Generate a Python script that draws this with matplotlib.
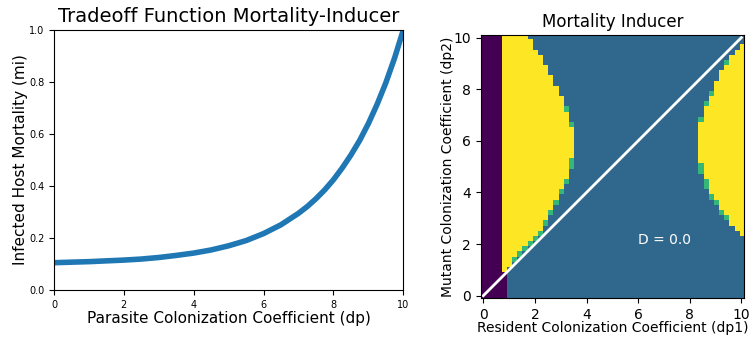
import numpy as np
import matplotlib
matplotlib.use("Agg")
import matplotlib.pyplot as plt

# tradeoff curve: infected host mortality vs parasite colonization coefficient
dp_vals = [0, 0.5, 1, 1.5, 2, 2.5, 3, 3.5, 4, 4.5, 5, 5.5, 6, 6.5,
           7, 7.25, 7.5, 7.75, 8, 8.25, 8.5, 8.75, 9, 9.25, 9.5, 9.75, 10]
mi_vals = [0.105, 0.107, 0.109, 0.112, 0.115, 0.119, 0.125, 0.133, 0.142, 0.154,
           0.170, 0.190, 0.217, 0.251, 0.295, 0.321, 0.351, 0.385, 0.424, 0.469,
           0.519, 0.575, 0.640, 0.714, 0.797, 0.892, 1.0]

# invasion grid, 51 x 51 cells over dp = 0..10 (step 0.2)
# codes: 0 = resident absent, 1 = no invasion, 2 = neutral edge, 3 = invasion
n_cells = 51
purple_cols = 4            # dp1 < 0.8 for every row
purple_low_rows = 5        # one extra purple column on the lowest rows

# left region: rows 5..50, last invading column in each row
left_first_row = 5
left_last_col = [4, 5, 5, 6, 7, 8, 9, 10, 11, 11, 12, 12, 13, 13, 14, 14,
                 15, 15, 16, 16, 16, 16, 17, 17, 17, 17, 17, 17, 16, 16, 16,
                 15, 15, 15, 14, 14, 13, 13, 12, 12, 11, 11, 10, 9, 9, 8]
left_edge = [(7, 6), (8, 7), (9, 8), (10, 9), (11, 10), (12, 11), (14, 12),
             (16, 13), (18, 14), (20, 15), (22, 16), (25, 17), (26, 17),
             (33, 17), (36, 16)]

# right region: rows 12..48, first invading column in each row
right_first_row = 12
right_first_col = [50, 49, 48, 48, 47, 46, 46, 45, 44, 44, 44, 43, 43, 43,
                   42, 42, 42, 42, 42, 42, 42, 42, 43, 43, 43, 44, 44, 45,
                   45, 45, 46, 46, 47, 48, 48, 49, 50]
right_edge = [(15, 47), (16, 46), (18, 45), (19, 44), (21, 43), (22, 43),
              (24, 42), (25, 42), (34, 42), (37, 43), (39, 44), (45, 47)]

grid_ticks = [0, 10, 20, 30, 40, 50]
grid_labels = ["0", "2", "4", "6", "8", "10"]

grid = np.ones((n_cells, n_cells))
grid[:, :purple_cols] = 0
grid[:purple_low_rows, purple_cols] = 0
for k, last in enumerate(left_last_col):
    grid[left_first_row + k, purple_cols:last + 1] = 3
for r, c in left_edge:
    grid[r, c] = 2
for k, first in enumerate(right_first_col):
    grid[right_first_row + k, first:] = 3
for r, c in right_edge:
    grid[r, c] = 2

fig = plt.figure(figsize=(7.52, 3.37), dpi=100)

ax1 = fig.add_axes([0.0718, 0.1395, 0.4645, 0.7715])
ax1.plot(dp_vals, mi_vals, color="#1f77b4", linewidth=4)
ax1.set_xlim(0, 10)
ax1.set_ylim(0, 1)
ax1.set_title("Tradeoff Function Mortality-Inducer", fontsize=14)
ax1.set_xlabel("Parasite Colonization Coefficient (dp)", fontsize=11, labelpad=1)
ax1.set_ylabel("Infected Host Mortality (mi)", fontsize=11, labelpad=1)
ax1.tick_params(labelsize=7)

ax2 = fig.add_axes([0.6392, 0.1148, 0.3501, 0.7813])
ax2.imshow(grid, origin="lower", cmap="viridis", vmin=0, vmax=3,
           aspect="auto", interpolation="nearest")
ax2.plot([0, n_cells - 1], [0, n_cells - 1], color="white", linewidth=2)
ax2.text(30, 10, "D = 0.0", color="white", fontsize=10)
ax2.set_xticks(grid_ticks)
ax2.set_xticklabels(grid_labels)
ax2.set_yticks(grid_ticks)
ax2.set_yticklabels(grid_labels)
ax2.set_title("Mortality Inducer", fontsize=12)
ax2.set_xlabel("Resident Colonization Coefficient (dp1)", labelpad=-1)
ax2.set_ylabel("Mutant Colonization Coefficient (dp2)", labelpad=-1)

fig.savefig("out.png", dpi=100)
